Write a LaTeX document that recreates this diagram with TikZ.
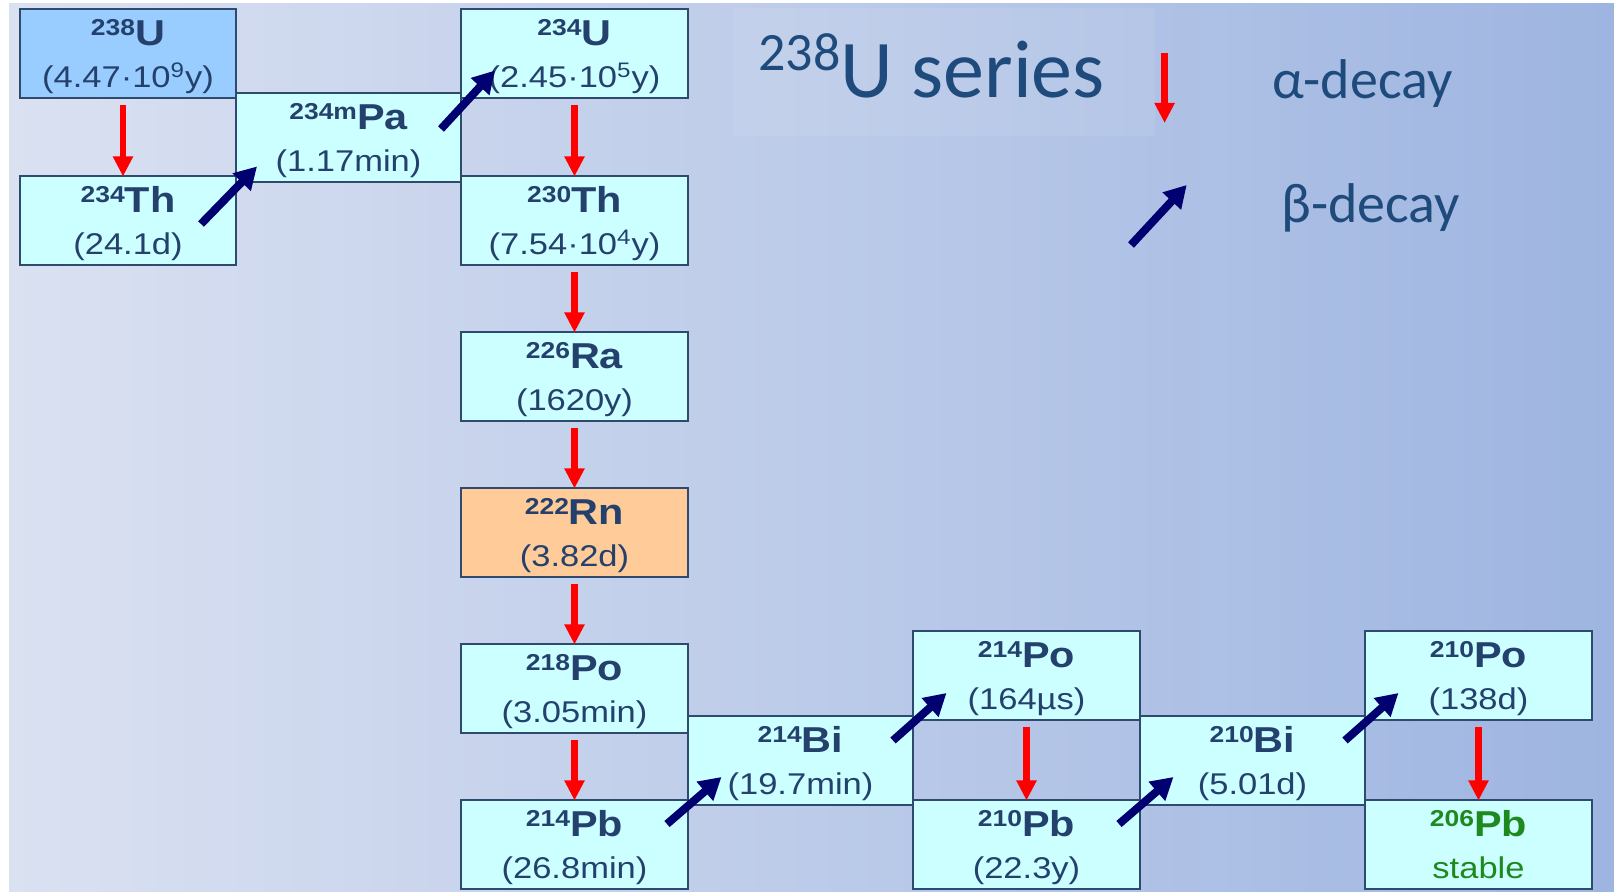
\documentclass[tikz,border=0pt]{standalone}
\usepackage{fontspec}
\setmainfont{Liberation Sans}
\newfontfamily\nucfont[FakeStretch=1.15]{Liberation Sans}
\newfontfamily\titlefont{Carlito}
\usepackage{xcolor}
\definecolor{boxcyan}{HTML}{CCFFFF}
\definecolor{boxblue}{HTML}{99CCFF}
\definecolor{boxorange}{HTML}{FFCC99}
\definecolor{boxline}{HTML}{2E4A6E}
\definecolor{nucblue}{HTML}{24406C}
\definecolor{titleblue}{HTML}{1F4A7C}
\definecolor{stablegreen}{HTML}{1E8A1E}
\definecolor{alphared}{HTML}{FF0000}
\definecolor{betanavy}{HTML}{000070}
\definecolor{bgleft}{HTML}{DAE1F1}
\definecolor{bgright}{HTML}{9EB5E1}
\usetikzlibrary{arrows.meta,positioning,calc}
\tikzset{
  nb/.style={draw=boxline, line width=1pt, fill=boxcyan, text=nucblue, align=center,
             font=\nucfont\fontsize{15pt}{21pt}\selectfont, inner sep=0pt, outer sep=0pt,
             minimum width=113.5pt, minimum height=44.5pt},
  ncyan/.style={nb},
  nnarrow/.style={nb, minimum width=108pt},
  nblue/.style={nnarrow, fill=boxblue},
  norange/.style={nb, fill=boxorange},
  nmid/.style={nb, minimum width=112.5pt},
  titlebox/.style={fill=white, fill opacity=0.08, text opacity=1, text=titleblue,
             font=\titlefont, inner sep=0pt, minimum width=211pt, minimum height=64pt,
             text depth=6pt},
  legtext/.style={font=\titlefont\fontsize{28pt}{28pt}\selectfont, text=titleblue,
             inner sep=0pt, anchor=base west},
  adec/.style={-{Triangle[length=10pt,width=9.5pt]}, draw=alphared, line width=3.2pt},
  bdec/.style={-{Triangle[length=11pt,width=12pt]}, draw=betanavy, line width=4pt},
}
% symbol line + half-life line
\newcommand{\nuc}[3]{\rule{0pt}{17pt}{\fontsize{18pt}{21pt}\selectfont\bfseries%
  \raisebox{5pt}{\fontsize{11.5pt}{12pt}\selectfont #1}#2}\\#3\rule[-4.2pt]{0pt}{4.2pt}}

\begin{document}
\begin{tikzpicture}[x=0.5pt, y=-0.5pt]
  \useasboundingbox (0,0) rectangle (1614,892);
  \fill[left color=bgleft, right color=bgright] (9,4) rectangle (1614,892);

  % title and legend
  \node[titlebox] (title) at (943.5,72) {\fontsize{41pt}{41pt}\selectfont
    \raisebox{13.5pt}{\fontsize{27pt}{27pt}\selectfont 238}U series\hspace*{12pt}};
  \node[legtext] (alab) at (1271.7,98.3) {α-decay};
  \node[legtext] (blab) at (1281,223) {β-decay};
  \coordinate (la0) at (1164.6,53.5);
  \coordinate (la1) at (1164.6,123);
  \coordinate (lb0) at (1131,245);
  \coordinate (lb1) at (1186.7,185);
  \draw[adec] (la0) -- (la1);
  \draw[bdec] (lb0) -- (lb1);

  % decay chain
  \node[nblue] (u238) at (128,54) {\nuc{238}{U}{(4.47·10\textsuperscript{9}y)}};
  \node[nnarrow, below=39pt of u238] (th234) {\nuc{234}{Th}{(24.1d)}};
  \node[nmid, anchor=west] (pa234) at ($(u238.south east)!0.5!(th234.north east)$)
    {\nuc{234m}{Pa}{(1.17min)}};
  \node[ncyan, right=112.5pt of u238] (u234) {\nuc{234}{U}{(2.45·10\textsuperscript{5}y)}};
  \node[ncyan, below=39pt of u234] (th230) {\nuc{230}{Th}{(7.54·10\textsuperscript{4}y)}};
  \node[ncyan, below=33.5pt of th230] (ra226) {\nuc{226}{Ra}{(1620y)}};
  \node[norange, below=33.5pt of ra226] (rn222) {\nuc{222}{Rn}{(3.82d)}};
  \node[ncyan, below=33.5pt of rn222] (po218) {\nuc{218}{Po}{(3.05min)}};
  \node[ncyan, below=33.5pt of po218] (pb214) {\nuc{214}{Pb}{(26.8min)}};
  \node[ncyan, right=112.5pt of pb214] (pb210) {\nuc{210}{Pb}{(22.3y)}};
  \node[ncyan, right=112.5pt of pb210, text=stablegreen] (pb206) {\nuc{206}{Pb}{stable}};
  \node[ncyan, above=40pt of pb210] (po214) {\nuc{214}{Po}{(164µs)}};
  \node[ncyan, above=40pt of pb206] (po210) {\nuc{210}{Po}{(138d)}};
  \node[nmid, anchor=east] (bi214) at ($(po214.south west)!0.5!(pb210.north west)$)
    {\nuc{214}{Bi}{(19.7min)}};
  \node[nmid, anchor=west] (bi210) at ($(pb210.north east)!0.5!(po214.south east)$)
    {\nuc{210}{Bi}{(5.01d)}};

  % alpha decays
  \draw[adec] ([xshift=-2.5pt,yshift=-3.5pt]u238.south) -- ([xshift=-2.5pt]th234.north);
  \draw[adec] ([yshift=-3.5pt]u234.south) -- (th230.north);
  \draw[adec] ([yshift=-3.5pt]th230.south) -- (ra226.north);
  \draw[adec] ([yshift=-3.5pt]ra226.south) -- (rn222.north);
  \draw[adec] ([yshift=-3.5pt]rn222.south) -- (po218.north);
  \draw[adec] ([yshift=-3.5pt]po218.south) -- (pb214.north);
  \draw[adec] ([yshift=-3.5pt]po214.south) -- (pb210.north);
  \draw[adec] ([yshift=-3.5pt]po210.south) -- (pb206.north);

  % beta decays
  \draw[bdec] ([shift={(-35,3)}]th234.east) -- ([shift={(21,29)}]pa234.west);
  \draw[bdec] ([shift={(-20,-8.5)}]pa234.east) -- ([shift={(34,16.5)}]u234.west);
  \draw[bdec] ([shift={(-21,-21)}]pb214.east) -- ([shift={(33.5,16.5)}]bi214.west);
  \draw[bdec] ([shift={(-20,-20)}]bi214.east) -- ([shift={(33.5,17)}]po214.west);
  \draw[bdec] ([shift={(-21,-21)}]pb210.east) -- ([shift={(33.5,16.5)}]bi210.west);
  \draw[bdec] ([shift={(-20,-20)}]bi210.east) -- ([shift={(33.5,17)}]po210.west);
\end{tikzpicture}
\end{document}
